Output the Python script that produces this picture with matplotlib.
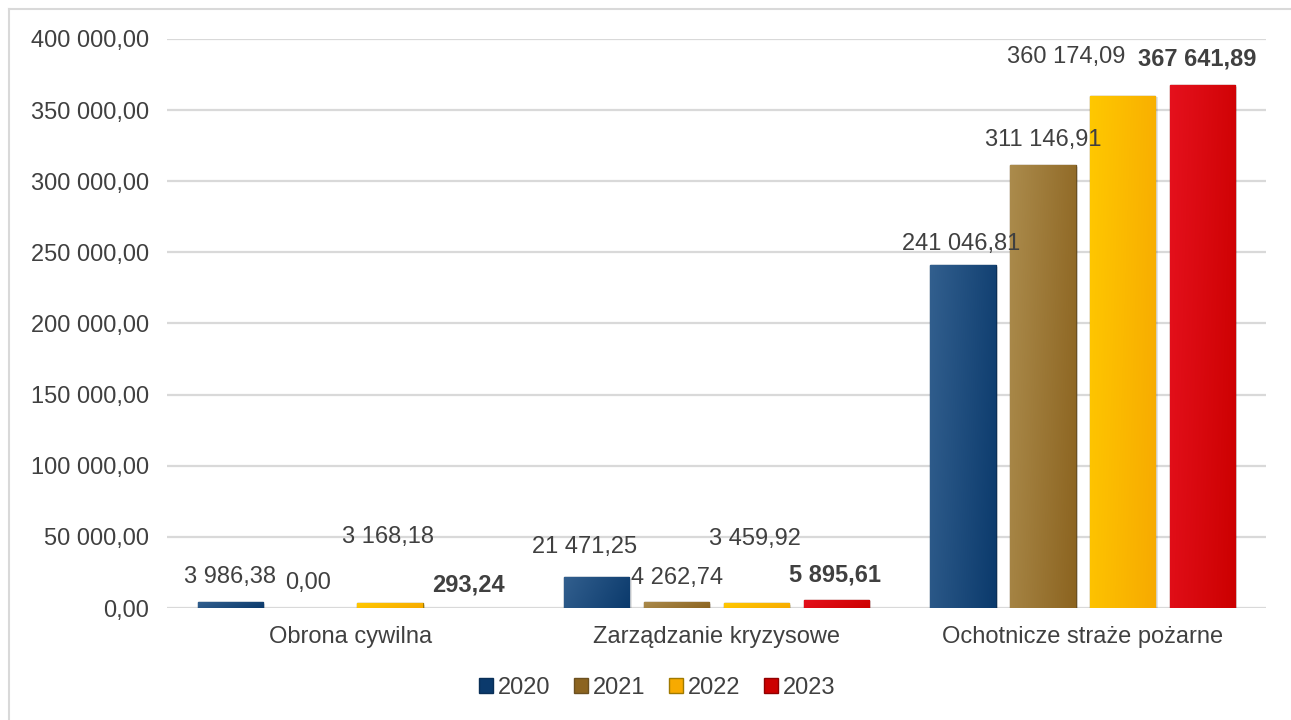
import numpy as np
import matplotlib
matplotlib.use('Agg')
import matplotlib.pyplot as plt
from matplotlib.patches import Patch
from matplotlib.lines import Line2D
from matplotlib.colors import LinearSegmentedColormap

plt.rcParams['font.family'] = ['Liberation Sans', 'DejaVu Sans']

categories = ['Obrona cywilna', 'Zarządzanie kryzysowe', 'Ochotnicze straże pożarne']
years = ['2020', '2021', '2022', '2023']
values = {
    '2020': [3986.38, 21471.25, 241046.81],
    '2021': [0.00, 4262.74, 311146.91],
    '2022': [3168.18, 3459.92, 360174.09],
    '2023': [293.24, 5895.61, 367641.89],
}
# light / dark end of each bar gradient, plus edge colour
shades = {
    '2020': ('#325f8e', '#0b3a6c', '#0a2f57'),
    '2021': ('#ab8b4c', '#8c6420', '#6b5020'),
    '2022': ('#ffc800', '#f7aa00', '#a07a00'),
    '2023': ('#e5111d', '#cc0000', '#900000'),
}
# manual label nudges (pixels) per year / category
label_shift = {
    '2020': [(0, 25), (-12, 30), (-2, 21)],
    '2021': [(-2, 25), (0, 24), (0, 25)],
    '2022': [(-2, 66), (-1, 64), (-57, 39)],
    '2023': [(-2, 23), (-1, 25), (-5, 26)],
}

def fmt(v):
    s = f'{v:,.2f}'
    return s.replace(',', ' ').replace('.', ',')

txt = '#404040'
fs = 17
fig = plt.figure(figsize=(12.91, 7.2), dpi=100)
ax = fig.add_axes([167/1291, 112/720, 1099/1291, 569/720])

x = np.arange(len(categories))
pitch, width = 0.218, 0.178
# diagonal gradient: lighter top-left, darker bottom-right
gx = np.linspace(0, 1, 64)
gy = np.linspace(0, 1, 64)
grad = (gx[None, :] * 0.8 + gy[:, None] * 0.2)

for i, yr in enumerate(years):
    light, dark, edge = shades[yr]
    cmap = LinearSegmentedColormap.from_list(yr, [light, dark])
    pos = x + (i - 1.5) * pitch
    for j, v in enumerate(values[yr]):
        if v <= 0:
            continue
        if v < 1000:
            ax.bar(pos[j], v, width, color='#e08080', linewidth=0, zorder=3)
            continue
        b = ax.bar(pos[j], v, width, color=dark, edgecolor=edge, linewidth=1.0, zorder=3)[0]
        # soft shadow to the right/bottom
        ax.bar(pos[j] + 0.006, v, width, bottom=-1200,
               color='#000000', alpha=0.10, linewidth=0, zorder=2)
        im = ax.imshow(grad, cmap=cmap, aspect='auto', zorder=3.5, origin='upper',
                       extent=[b.get_x(), b.get_x() + b.get_width(), 0, v],
                       interpolation='bilinear')
        im.set_clip_path(b)
    for j, v in enumerate(values[yr]):
        dx, dy = label_shift[yr][j]
        ax.annotate(fmt(v), (pos[j], v), xytext=(dx, dy), textcoords='offset pixels',
                    ha='center', va='center', fontsize=fs, color=txt,
                    fontweight='bold' if yr == '2023' else 'normal', zorder=5)

ax.set_xlim(-0.5, 2.5)
ax.set_ylim(0, 400000)
ticks = np.arange(0, 400001, 50000)
ax.set_yticks(ticks)
ax.set_yticklabels([fmt(t) for t in ticks])
ax.set_xticks(x)
ax.set_xticklabels(categories)
ax.tick_params(axis='both', length=0, labelsize=fs, labelcolor=txt)
ax.tick_params(axis='y', pad=13)
ax.tick_params(axis='x', pad=13)
ax.grid(axis='y', color='#d9d9d9', linewidth=1.6, zorder=0)
for s in ax.spines.values():
    s.set_visible(False)

handles = [Patch(facecolor=shades[y][1], edgecolor=shades[y][2], label=y) for y in years]
fig.legend(handles=handles, loc='center', bbox_to_anchor=(657/1291, 1 - 688/720), ncol=4,
           frameon=False, fontsize=fs, handlelength=0.6, handleheight=0.6,
           handletextpad=0.2, columnspacing=1.0, labelcolor=txt)

# outer frame (left and top edges)
fig.add_artist(Line2D([9/1291, 9/1291], [0, 1 - 9/720], color='#d9d9d9', linewidth=1.5))
fig.add_artist(Line2D([9/1291, 1], [1 - 9/720, 1 - 9/720], color='#d9d9d9', linewidth=1.5))

fig.savefig('out.png', dpi=100)
